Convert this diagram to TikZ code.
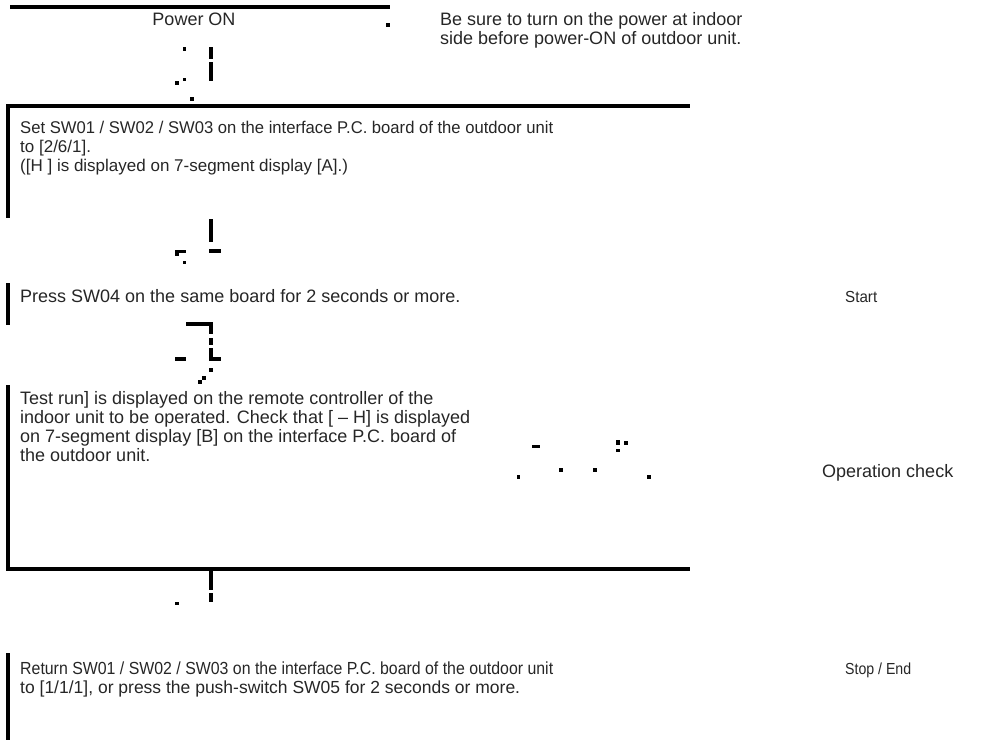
\documentclass[tikz,border=0pt]{standalone}
\usepackage{fontspec}
\usepackage{graphicx}
\setmainfont{Liberation Sans}
\definecolor{txt}{RGB}{38,38,38}
\newcommand{\fw}[2]{\resizebox{#1pt}{\height}{#2}}
\begin{document}
\begin{tikzpicture}[x=1pt,y=-1pt,
  lbl/.style={anchor=base west, inner sep=0pt, text=txt, font=\fontsize{18}{19}\selectfont, align=left},
  lblsm/.style={lbl, font=\fontsize{17}{19}\selectfont},
  lblxs/.style={lbl, font=\fontsize{16}{19}\selectfont},
  frag/.style={fill=black, draw=none}]
\useasboundingbox (0,0) rectangle (992,740);
% ---- top fragment (Power ON)
\fill[frag] (10,5) rectangle (390,9);
\fill[frag] (386,23) rectangle (390,27);
\node[lbl, anchor=base] (power) at (194,25) {Power ON};
\node[lbl] (note) at (440,44) {Be sure to turn on the power at indoor\\side before power-ON of outdoor unit.};
% arrow pieces 1
\fill[frag] (183,47) rectangle (186,51);
\fill[frag] (209,47) rectangle (213,59);
\fill[frag] (209,62) rectangle (213,81);
\fill[frag] (183,78) rectangle (186,81);
\fill[frag] (175,81) rectangle (179,85);
\fill[frag] (190,97) rectangle (194,101);
% ---- box 2
\fill[frag] (6,104) rectangle (690,108);
\fill[frag] (6,104) rectangle (10,218);
\node[lblsm] (set) at (20,171) {\fw{533}{Set SW01 / SW02 / SW03 on the interface P.C. board of the outdoor unit}\\to [2/6/1].\\([H ] is displayed on 7-segment display [A].)};
% arrow pieces 2
\fill[frag] (209,219) rectangle (213,242);
\fill[frag] (209,249) rectangle (221,253);
\fill[frag] (175,250) rectangle (186,253);
\fill[frag] (175,253) rectangle (179,256);
\fill[frag] (183,261) rectangle (186,264);
% ---- box 3
\fill[frag] (6,283) rectangle (10,325);
\node[lbl] (press) at (20,302) {Press SW04 on the same board for 2 seconds or more.};
\node[lblxs] (start) at (845,302) {\fw{32}{Start}};
% arrow pieces 3
\fill[frag] (186,322) rectangle (213,326);
\fill[frag] (209,322) rectangle (213,334);
\fill[frag] (209,338) rectangle (213,345);
\fill[frag] (209,348) rectangle (213,357);
\fill[frag] (209,357) rectangle (221,361);
\fill[frag] (175,357) rectangle (186,361);
\fill[frag] (209,368) rectangle (213,372);
\fill[frag] (202,376) rectangle (206,380);
\fill[frag] (198,380) rectangle (202,384);
% ---- box 4
\fill[frag] (6,385) rectangle (10,571);
\fill[frag] (6,567) rectangle (690,571);
\node[lbl] (test) at (20,461) {Test run] is displayed on the remote controller of the\\indoor unit to be operated. Check that [ -- H] is displayed\\on 7-segment display [B] on the interface P.C. board of\\the outdoor unit.};
\node[lbl] (check) at (822,477) {Operation check};
% scattered pieces
\fill[frag] (532,445) rectangle (540,448);
\fill[frag] (616,440) rectangle (620,445);
\fill[frag] (624,441) rectangle (628,445);
\fill[frag] (616,449) rectangle (620,452);
\fill[frag] (559,468) rectangle (563,472);
\fill[frag] (593,468) rectangle (597,472);
\fill[frag] (517,475) rectangle (520,479);
\fill[frag] (647,475) rectangle (651,479);
% arrow pieces 4
\fill[frag] (209,571) rectangle (213,590);
\fill[frag] (209,593) rectangle (213,602);
\fill[frag] (175,602) rectangle (179,605);
% ---- box 5
\fill[frag] (6,653) rectangle (10,740);
\node[lbl, font=\fontsize{17.5}{19}\selectfont] (ret) at (20,693) {\fw{533}{Return SW01 / SW02 / SW03 on the interface P.C. board of the outdoor unit}\\to [1/1/1], or press the push-switch SW05 for 2 seconds or more.};
\node[lblxs] (stop) at (845,674) {\fw{66}{Stop / End}};
\end{tikzpicture}
\end{document}
